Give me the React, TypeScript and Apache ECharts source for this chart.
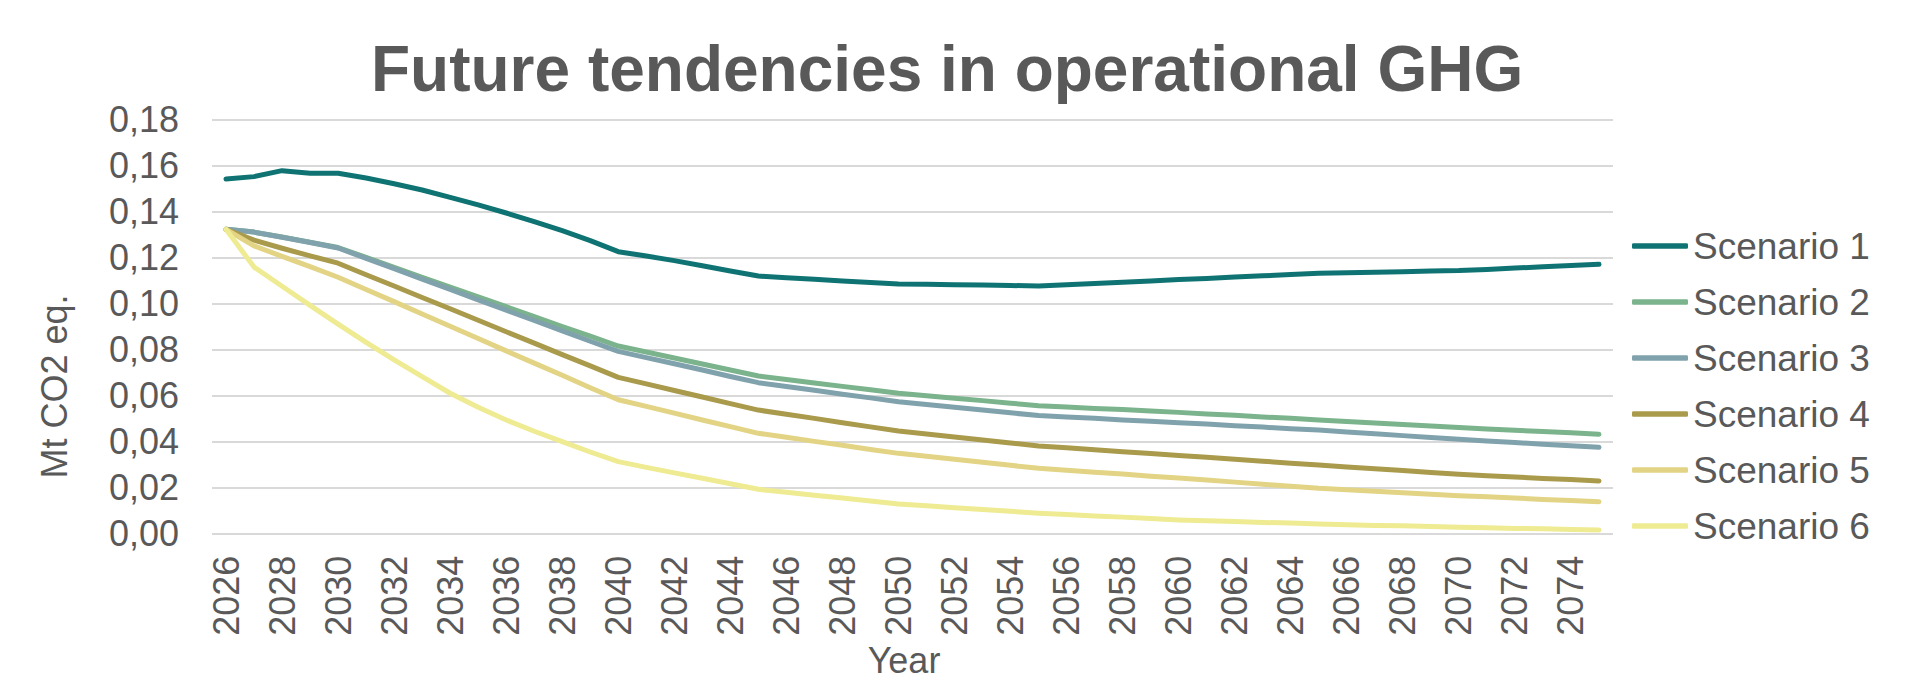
import React, { useEffect, useRef } from "react";
import * as echarts from "echarts";

const years = [
  "2026", "2027", "2028", "2029", "2030", "2031", "2032", "2033", "2034", "2035",
  "2036", "2037", "2038", "2039", "2040", "2041", "2042", "2043", "2044", "2045",
  "2046", "2047", "2048", "2049", "2050", "2051", "2052", "2053", "2054", "2055",
  "2056", "2057", "2058", "2059", "2060", "2061", "2062", "2063", "2064", "2065",
  "2066", "2067", "2068", "2069", "2070", "2071", "2072", "2073", "2074", "2075",
];

const scenario1 = [
  0.1541, 0.1551, 0.1577, 0.1566, 0.1566, 0.1545, 0.152, 0.1493, 0.1461, 0.1428,
  0.1393, 0.1356, 0.1316, 0.1273, 0.1225, 0.1206, 0.1186, 0.1164, 0.1141, 0.1119,
  0.1112, 0.1105, 0.1098, 0.1091, 0.1085, 0.1083, 0.1081, 0.108, 0.1078, 0.1076,
  0.1081, 0.1087, 0.1092, 0.1098, 0.1104, 0.1109, 0.1115, 0.112, 0.1126, 0.1131,
  0.1133, 0.1136, 0.1138, 0.1141, 0.1143, 0.1148, 0.1154, 0.1159, 0.1165, 0.117,
];
const scenario2 = [
  0.1322, 0.131, 0.1289, 0.1266, 0.1243, 0.12, 0.1157, 0.1114, 0.1071, 0.1029,
  0.0986, 0.0943, 0.09, 0.0858, 0.0815, 0.0789, 0.0763, 0.0737, 0.0711, 0.0685,
  0.067, 0.0655, 0.064, 0.0625, 0.061, 0.0599, 0.0588, 0.0578, 0.0567, 0.0556,
  0.055, 0.0544, 0.0539, 0.0533, 0.0527, 0.052, 0.0514, 0.0507, 0.0501, 0.0494,
  0.0487, 0.0481, 0.0474, 0.0468, 0.0461, 0.0455, 0.0449, 0.0444, 0.0438, 0.0432,
];
const scenario3 = [
  0.1322, 0.131, 0.1288, 0.1265, 0.1241, 0.1196, 0.1151, 0.1106, 0.1061, 0.1016,
  0.0971, 0.0926, 0.0881, 0.0836, 0.0792, 0.0765, 0.0738, 0.0711, 0.0683, 0.0656,
  0.0639, 0.0623, 0.0606, 0.059, 0.0573, 0.0561, 0.0549, 0.0537, 0.0525, 0.0513,
  0.0507, 0.0501, 0.0494, 0.0488, 0.0482, 0.0476, 0.0469, 0.0463, 0.0456, 0.045,
  0.0442, 0.0434, 0.0426, 0.0418, 0.041, 0.0403, 0.0396, 0.0389, 0.0382, 0.0375,
];
const scenario4 = [
  0.1322, 0.1275, 0.124, 0.1207, 0.1175, 0.1125, 0.1076, 0.1026, 0.0977, 0.0927,
  0.0877, 0.0828, 0.0778, 0.0729, 0.0679, 0.0651, 0.0622, 0.0594, 0.0565, 0.0537,
  0.0519, 0.0501, 0.0482, 0.0464, 0.0446, 0.0433, 0.042, 0.0407, 0.0394, 0.0381,
  0.0373, 0.0365, 0.0356, 0.0348, 0.034, 0.0332, 0.0323, 0.0315, 0.0306, 0.0298,
  0.029, 0.0282, 0.0274, 0.0266, 0.0258, 0.0252, 0.0246, 0.024, 0.0235, 0.0229,
];
const scenario5 = [
  0.1322, 0.125, 0.1205, 0.116, 0.1114, 0.1061, 0.1008, 0.0954, 0.0901, 0.0848,
  0.0794, 0.0741, 0.0688, 0.0634, 0.0582, 0.0553, 0.0524, 0.0494, 0.0465, 0.0436,
  0.0419, 0.0401, 0.0384, 0.0366, 0.0349, 0.0336, 0.0323, 0.031, 0.0297, 0.0284,
  0.0276, 0.0267, 0.0259, 0.025, 0.0242, 0.0233, 0.0224, 0.0215, 0.0206, 0.0197,
  0.0191, 0.0184, 0.0178, 0.0171, 0.0165, 0.016, 0.0155, 0.0149, 0.0144, 0.0139,
];
const scenario6 = [
  0.1322, 0.1158, 0.1075, 0.0992, 0.091, 0.0831, 0.0755, 0.0682, 0.061, 0.0549,
  0.0494, 0.0445, 0.04, 0.0355, 0.0313, 0.0288, 0.0264, 0.0241, 0.0217, 0.0193,
  0.018, 0.0167, 0.0155, 0.0142, 0.0129, 0.0121, 0.0113, 0.0105, 0.0097, 0.0089,
  0.0083, 0.0077, 0.0072, 0.0066, 0.006, 0.0056, 0.0053, 0.0049, 0.0046, 0.0042,
  0.0039, 0.0036, 0.0034, 0.0031, 0.0028, 0.0026, 0.0023, 0.0021, 0.0018, 0.0016,
];

const seriesNames = ["Scenario 1", "Scenario 2", "Scenario 3", "Scenario 4", "Scenario 5", "Scenario 6"];
const seriesData = [scenario1, scenario2, scenario3, scenario4, scenario5, scenario6];
const seriesColors = ["#107373", "#7bb38c", "#80a2ac", "#a99a4c", "#e2d484", "#eeeb92"];

const titleText = "Future tendencies in operational GHG";
const yAxisTitle = "Mt CO2 eq.";
const xAxisTitle = "Year";

const FONT = "'Liberation Sans', Arial, Helvetica, sans-serif";
const TEXT_COLOR = "#595959";

export default function App() {
  const ref = useRef<HTMLDivElement>(null);

  useEffect(() => {
    if (!ref.current) return;
    const chart = echarts.init(ref.current, null, { renderer: "svg" });
    chart.setOption({
      animation: false,
      backgroundColor: "#ffffff",
      textStyle: { fontFamily: FONT },
      title: {
        text: titleText,
        left: 371,
        top: 36.5,
        padding: 0,
        textStyle: {
          fontFamily: FONT,
          fontSize: 64,
          fontWeight: "bold",
          color: TEXT_COLOR,
        },
      },
      legend: {
        orient: "vertical",
        left: 1632,
        top: 224,
        padding: 0,
        icon: "roundRect",
        itemWidth: 56,
        itemHeight: 5.5,
        itemGap: 12,
        data: seriesNames,
        textStyle: {
          fontFamily: FONT,
          fontSize: 37,
          lineHeight: 44,
          color: TEXT_COLOR,
        },
      },
      grid: {
        left: 212,
        right: 306,
        top: 119.3,
        bottom: 146.3,
        containLabel: false,
        outerBoundsMode: "none",
      },
      xAxis: {
        type: "category",
        data: years,
        boundaryGap: true,
        name: xAxisTitle,
        nameLocation: "middle",
        nameGap: 109,
        nameMoveOverlap: false,
        nameTextStyle: {
          fontFamily: FONT,
          fontSize: 36,
          color: TEXT_COLOR,
          padding: [0, 17, 0, 0],
        },
        axisLine: { show: false },
        axisTick: { show: false },
        axisLabel: {
          interval: 1,
          rotate: 90,
          margin: 22,
          fontFamily: FONT,
          fontSize: 36,
          color: TEXT_COLOR,
        },
        splitLine: { show: false },
      },
      yAxis: {
        type: "value",
        min: 0,
        max: 0.18,
        interval: 0.02,
        name: yAxisTitle,
        nameLocation: "middle",
        nameGap: 140,
        nameMoveOverlap: false,
        nameTextStyle: {
          fontFamily: FONT,
          fontSize: 36,
          color: TEXT_COLOR,
          padding: [0, 120, 0, 0],
        },
        axisLine: { show: false },
        axisTick: { show: false },
        axisLabel: {
          margin: 33,
          fontFamily: FONT,
          fontSize: 36,
          color: TEXT_COLOR,
          formatter: (v: number) => v.toFixed(2).replace(".", ","),
        },
        splitLine: { show: true, lineStyle: { color: "#d9d9d9", width: 2 } },
      },
      series: seriesNames.map((name, i) => ({
        name,
        type: "line",
        data: seriesData[i],
        symbol: "none",
        smooth: false,
        color: seriesColors[i],
        itemStyle: { color: seriesColors[i] },
        lineStyle: { width: 5, color: seriesColors[i], cap: "round", join: "round" },
      })),
    });
    return () => chart.dispose();
  }, []);

  return (
    <div
      ref={ref}
      style={{ position: "fixed", left: 0, top: 0, width: 1919, height: 680, background: "#fff" }}
    />
  );
}
